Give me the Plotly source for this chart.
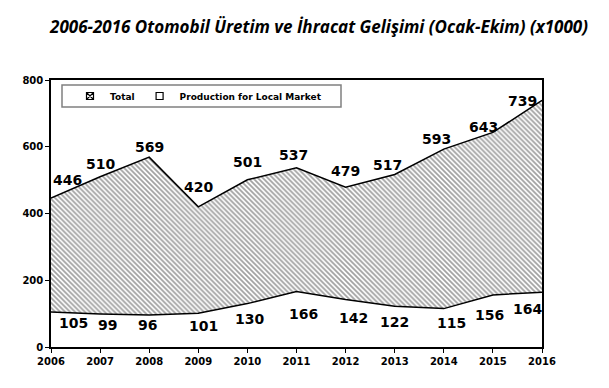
import plotly.graph_objects as go

years = [2006, 2007, 2008, 2009, 2010, 2011, 2012, 2013, 2014, 2015, 2016]
total = [446, 510, 569, 420, 501, 537, 479, 517, 593, 643, 739]
local_market = [105, 99, 96, 101, 130, 166, 142, 122, 115, 156, 164]
y_ticks = [0, 200, 400, 600, 800]

# label pixel offsets (style only)
total_dx = [16, 0, 0, 0, 0, -3, 0, -7, -7, -9, -20]
total_dy = [18, 13, 10, 20, 18, 13, 16, 9, 10, 5, -1]
local_dx = [22, 7, -2, 5, 2, 7, 8, 0, 8, -3, -15]
local_dy = [-11, -11, -10, -13, -15, -22, -18, -16, -14, -20, -17]

# page body has an 8px default margin; the figure is sized to fit inside the window
W, H = 601, 380
PL, PR, PT, PB = 43, 534, 72, 339  # plot area in figure pixels

fig = go.Figure()
fig.add_trace(go.Scatter(
    x=years, y=total, mode="lines", fill="tozeroy",
    line=dict(color="black", width=1.5),
    fillcolor="white",
    fillpattern=dict(shape="\\", size=3.5, solidity=0.5, fgcolor="#444444", bgcolor="white"),
    showlegend=False, hoverinfo="skip"))
fig.add_trace(go.Scatter(
    x=years, y=local_market, mode="lines", fill="tozeroy",
    line=dict(color="black", width=1.5), fillcolor="white",
    showlegend=False, hoverinfo="skip"))
# legend entries
fig.add_trace(go.Scatter(x=[None], y=[None], mode="markers", name="Total",
    marker=dict(symbol="square-x-open", size=7, color="black", line=dict(width=1.2))))
fig.add_trace(go.Scatter(x=[None], y=[None], mode="markers", name="Production for Local Market",
    marker=dict(symbol="square-open", size=7, color="black", line=dict(width=1.2))))

lab_font = dict(family="DejaVu Sans", size=14, color="black", weight="bold")
for i, yr in enumerate(years):
    fig.add_annotation(x=yr, y=total[i], text=str(total[i]), showarrow=False,
                       xshift=total_dx[i], yshift=total_dy[i], font=lab_font)
    fig.add_annotation(x=yr, y=local_market[i], text=str(local_market[i]), showarrow=False,
                       xshift=local_dx[i], yshift=local_dy[i], font=lab_font)

pw, ph = PR - PL, PB - PT
# legend frame (page px 62-341 x 85-107)
fig.add_shape(type="rect", xref="paper", yref="paper",
              x0=(54 - PL) / pw, x1=(333 - PL) / pw,
              y0=(PB - 99) / ph, y1=(PB - 77) / ph,
              line=dict(color="#808080", width=1.5), fillcolor="white", layer="above")

tick_font = dict(family="DejaVu Sans", size=10, color="black", weight="bold")
fig.update_layout(
    width=W, height=H,
    margin=dict(l=PL, r=W - PR, t=PT, b=H - PB),
    paper_bgcolor="white", plot_bgcolor="white",
    title=dict(text="<b><i>2006-2016 Otomobil Üretim ve İhracat Gelişimi (Ocak-Ekim) (x1000)</i></b>",
               x=311 / W, xanchor="center", y=1 - 19 / H, yanchor="middle",
               font=dict(family="Open Sans", size=17, color="black")),
    xaxis=dict(range=[2006, 2016], tickvals=years, ticktext=[str(y) for y in years],
               showgrid=False, zeroline=False, showline=True, linecolor="black", linewidth=2,
               ticks="outside", ticklen=4, tickcolor="black", mirror=True,
               tickfont=tick_font),
    yaxis=dict(range=[0, 800], tickvals=y_ticks, showgrid=False, zeroline=False,
               showline=True, linecolor="black", linewidth=1.5, ticks="outside", ticklen=4,
               tickcolor="black", mirror=True, tickfont=tick_font),
    legend=dict(orientation="h", x=(62 - PL) / pw, y=(PB - 88) / ph, xanchor="left", yanchor="middle",
                bgcolor="rgba(0,0,0,0)", borderwidth=0, itemwidth=30,
                font=dict(family="DejaVu Sans", size=9, color="black", weight="bold")),
)
fig.write_html("out.html")
